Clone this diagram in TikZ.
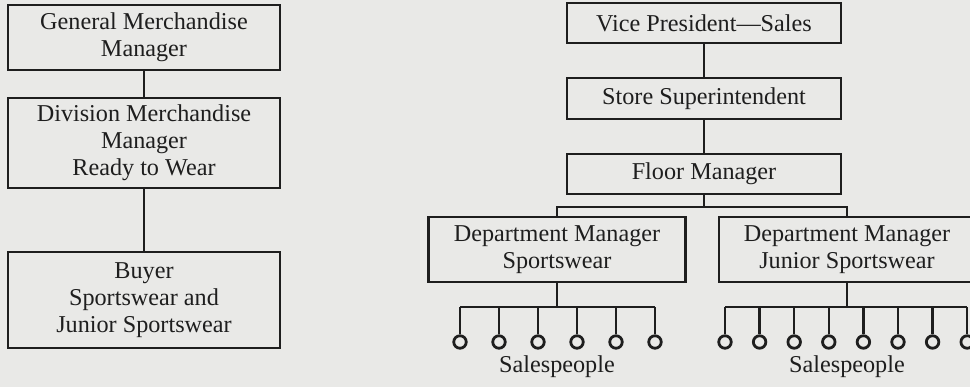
\documentclass[tikz,border=0pt]{standalone}
\usepackage{fontspec}
\setmainfont{Liberation Serif}
\definecolor{paper}{RGB}{233,233,231}
\definecolor{ink}{RGB}{30,30,30}
\begin{document}
\begin{tikzpicture}[x=1pt,y=-1pt,
  box/.style={draw=ink,line width=2.4pt,inner sep=0pt,align=center,text=ink,
    font=\fontsize{24.2}{27}\selectfont},
  lnk/.style={draw=ink,line width=2.5pt},
  circ/.style={circle,draw=ink,line width=2.8pt,minimum size=12.5pt,inner sep=0pt},
  lbl/.style={text=ink,font=\fontsize{24.2}{27}\selectfont,inner sep=0pt}]
\fill[paper] (0,0) rectangle (970,387);
\useasboundingbox (0,0) rectangle (970,387);
\clip (0,0) rectangle (970,387);
% left column
\node[box,minimum width=272pt,minimum height=65pt] (gmm) at (144,37.5) {General Merchandise\\Manager};
\node[box,minimum width=272pt,minimum height=90pt] (dmm) at (144,143) {Division Merchandise\\Manager\\Ready to Wear};
\node[box,minimum width=272pt,minimum height=96pt] (buy) at (144,300) {Buyer\\Sportswear and\\Junior Sportswear};
\draw[lnk] (gmm) -- (dmm);
\draw[lnk] (dmm) -- (buy);
% right column
\node[box,minimum width=274pt,minimum height=40pt] (vp) at (704,23) {Vice President---Sales};
\node[box,minimum width=274pt,minimum height=41pt] (ss) at (704,98.5) {Store Superintendent};
\node[box,minimum width=274pt,minimum height=40pt] (fm) at (704,174) {Floor Manager};
\node[box,minimum width=257pt,minimum height=65pt] (dms) at (557,249.5) {Department Manager\\Sportswear};
\node[box,minimum width=256pt,minimum height=65pt] (dmj) at (847,249.5) {Department Manager\\Junior Sportswear};
\draw[lnk] (vp) -- (ss);
\draw[lnk] (ss) -- (fm);
\coordinate (j) at (704,207);
\draw[lnk] (fm.south) -- (j);
\draw[lnk] (dms.north) |- (j) -| (dmj.north);
% salespeople left
\foreach \i in {0,...,5} {
  \node[circ] (a\i) at ({460+39*\i},342) {};
}
\coordinate (ba) at (557,307);
\draw[lnk] (dms.south) -- (ba);
\draw[lnk] (a0 |- ba) -- (a5 |- ba);
\foreach \i in {0,...,5} { \draw[lnk] (a\i |- ba) -- (a\i); }
\node[lbl] (sa) at (557,367) {Salespeople};
% salespeople right
\foreach \i in {0,...,7} {
  \node[circ] (b\i) at ({725+34.6*\i},342) {};
}
\coordinate (bb) at (847,307);
\draw[lnk] (dmj.south) -- (bb);
\draw[lnk] (b0 |- bb) -- (b7 |- bb);
\foreach \i in {0,...,7} { \draw[lnk] (b\i |- bb) -- (b\i); }
\node[lbl] (sb) at (847,367) {Salespeople};
\end{tikzpicture}
\end{document}
